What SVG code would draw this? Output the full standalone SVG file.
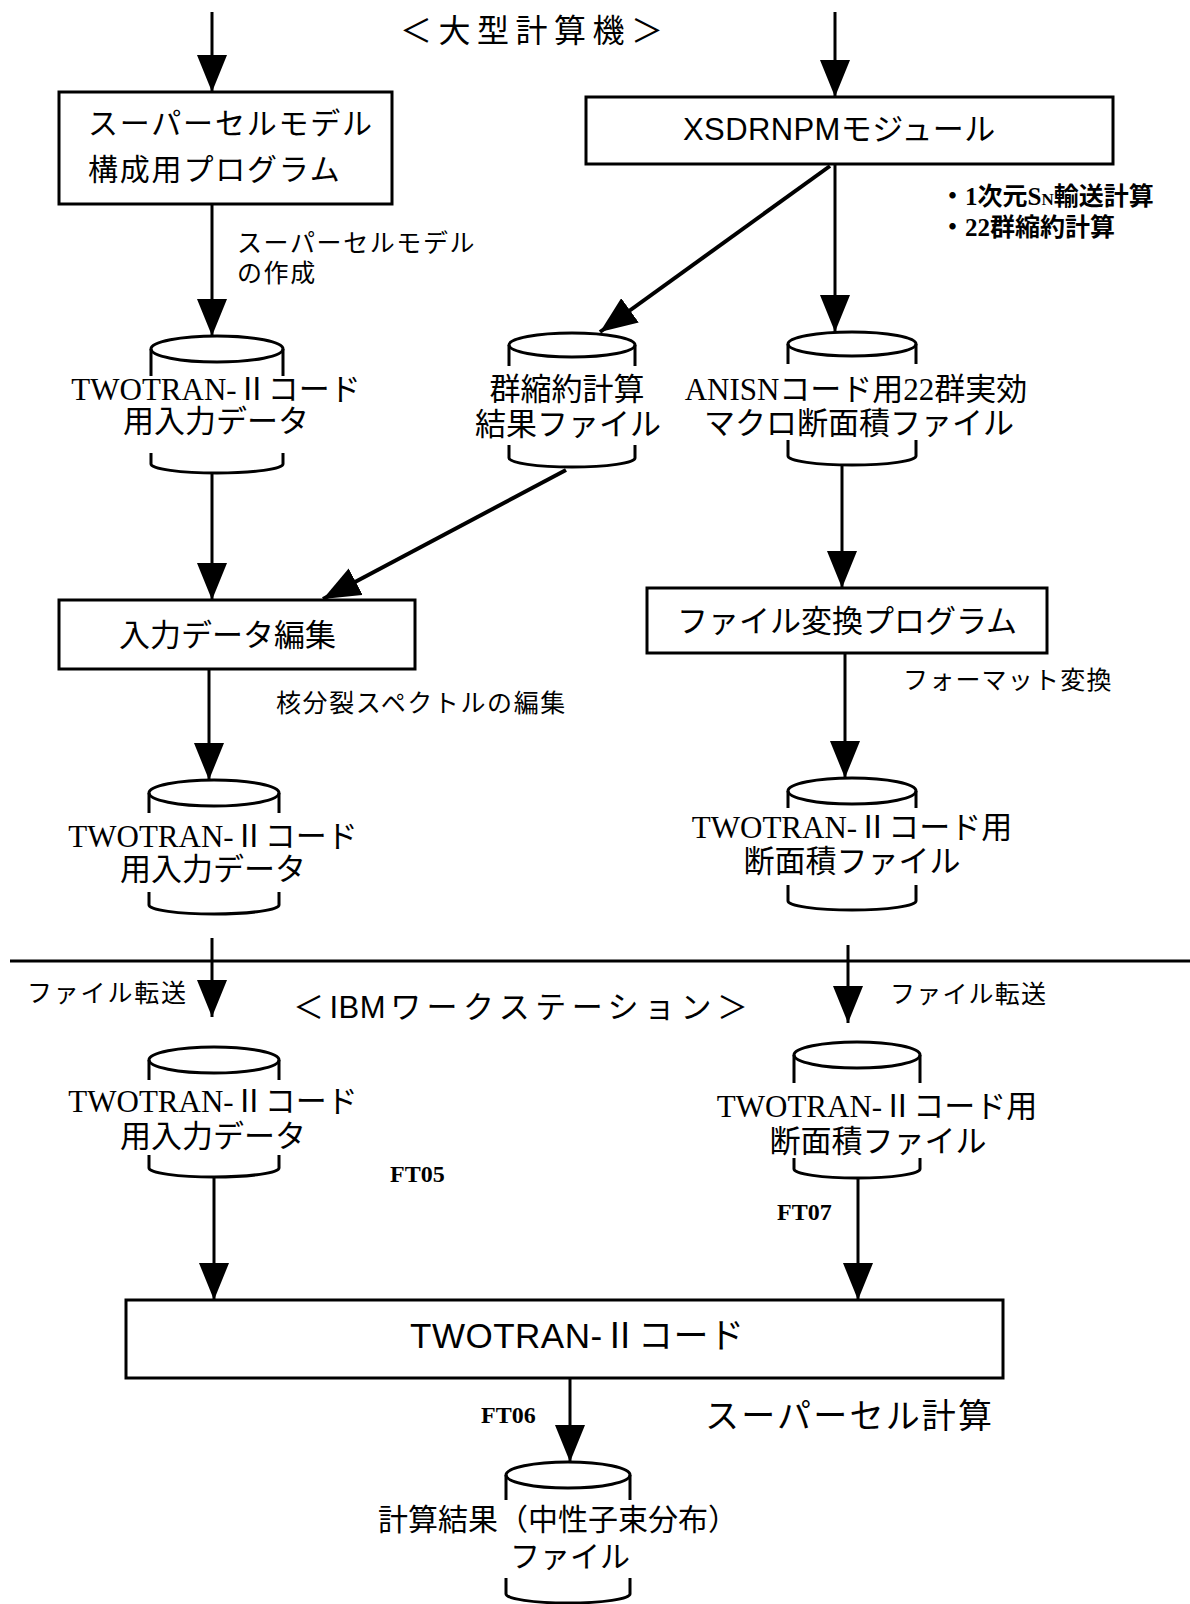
<svg xmlns="http://www.w3.org/2000/svg" width="1190" height="1604" viewBox="0 0 1190 1604">
<style>
.bx{fill:#fff;stroke:#000;stroke-width:3}
.cy{fill:none;stroke:#000;stroke-width:3}
.ln{fill:none;stroke:#000;stroke-width:3}
.lnd{fill:none;stroke:#000;stroke-width:4}
.sans{font-family:"Liberation Sans","Noto Sans CJK JP",sans-serif;fill:#000}
.ser{font-family:"Liberation Serif","Noto Sans CJK JP",serif;fill:#000}
.t31{font-size:31px}
.t30{font-size:30px}
.lb{font-size:25px}
.mid{text-anchor:middle}
</style>
<defs>
<marker id="ah" viewBox="0 0 37 30" refX="37" refY="15" markerWidth="37" markerHeight="30" markerUnits="userSpaceOnUse" orient="auto">
<path d="M0,0 L37,15 L0,30 Z" fill="#000"/>
</marker>
</defs>
<rect x="0" y="0" width="1190" height="1604" fill="#fff"/>

<text class="sans" x="400" y="42" font-size="32" letter-spacing="6.5">＜大型計算機＞</text>
<text class="sans t31" x="293" y="1018" letter-spacing="5.5">＜<tspan letter-spacing="0.5">IBM</tspan><tspan dx="4">ワークステーション＞</tspan></text>
<line class="ln" x1="10" y1="961" x2="1190" y2="961"/>

<g id="connectors">
<line class="ln" x1="212" y1="12" x2="212" y2="92" marker-end="url(#ah)"/>
<line class="ln" x1="835" y1="12" x2="835" y2="97" marker-end="url(#ah)"/>
<line class="ln" x1="212" y1="204" x2="212" y2="336" marker-end="url(#ah)"/>
<line class="lnd" x1="830" y1="166" x2="600" y2="332" marker-end="url(#ah)"/>
<line class="ln" x1="835" y1="164" x2="835" y2="332" marker-end="url(#ah)"/>
<line class="ln" x1="212" y1="473" x2="212" y2="600" marker-end="url(#ah)"/>
<line class="lnd" x1="566" y1="470" x2="323" y2="599" marker-end="url(#ah)"/>
<line class="ln" x1="842" y1="465" x2="842" y2="588" marker-end="url(#ah)"/>
<line class="ln" x1="209" y1="669" x2="209" y2="780" marker-end="url(#ah)"/>
<line class="ln" x1="845" y1="653" x2="845" y2="778" marker-end="url(#ah)"/>
<line class="ln" x1="212" y1="938" x2="212" y2="1017" marker-end="url(#ah)"/>
<line class="ln" x1="848" y1="945" x2="848" y2="1023" marker-end="url(#ah)"/>
<line class="ln" x1="214" y1="1177" x2="214" y2="1300" marker-end="url(#ah)"/>
<line class="ln" x1="858" y1="1178" x2="858" y2="1300" marker-end="url(#ah)"/>
<line class="ln" x1="570" y1="1378" x2="570" y2="1462" marker-end="url(#ah)"/>
<text class="ser lb" x="237" y="252" letter-spacing="1.6">スーパーセルモデル</text>
<text class="ser lb" x="237" y="282" letter-spacing="1.6">の作成</text>
<text class="ser lb" x="276" y="712" letter-spacing="1.6">核分裂スペクトルの編集</text>
<text class="ser lb" x="903" y="689" letter-spacing="1.2">フォーマット変換</text>
<text class="ser lb" x="27" y="1002" letter-spacing="1.8">ファイル転送</text>
<text class="ser lb" x="890" y="1003" letter-spacing="1.2">ファイル転送</text>
<text class="ser" x="390" y="1182" font-size="24" font-weight="bold">FT05</text>
<text class="ser" x="777" y="1220" font-size="24" font-weight="bold">FT07</text>
<text class="ser" x="481" y="1423" font-size="24" font-weight="bold">FT06</text>
</g>

<g id="n_supercell_prog">
<rect class="bx" x="59" y="92" width="333" height="112"/>
<text class="sans t30" x="88" y="134" letter-spacing="1.8">スーパーセルモデル</text>
<text class="sans t30" x="88" y="180" letter-spacing="1.8">構成用プログラム</text>
</g>

<g id="n_xsdrnpm">
<rect class="bx" x="586" y="97" width="527" height="67"/>
<text class="sans t31" x="683" y="140" letter-spacing="0.4">XSDRNPMモジュール</text>
</g>

<g id="n_xsdrnpm_note">
<text class="ser" x="940" y="205" font-size="25" font-weight="bold">・1次元S<tspan font-size="17">N</tspan>輸送計算</text>
<text class="ser" x="940" y="236" font-size="25" font-weight="bold">・22群縮約計算</text>
</g>

<g id="n_input1">
<ellipse class="cy" cx="217" cy="349" rx="66" ry="13"/>
<path class="cy" d="M151,349 V376 M283,349 V376 M151,453 V464 A66,9 0 0 0 283,464 V453"/>
<text class="ser t31 mid" x="216" y="400">TWOTRAN-Ⅱコード</text>
<text class="ser t31 mid" x="216" y="432">用入力データ</text>
</g>

<g id="n_group_result">
<ellipse class="cy" cx="572" cy="345" rx="63" ry="12"/>
<path class="cy" d="M509,345 V366 M635,345 V366 M509,445 V458 A63,9 0 0 0 635,458 V445"/>
<text class="ser t31 mid" x="567" y="400">群縮約計算</text>
<text class="ser t31 mid" x="568" y="435">結果ファイル</text>
</g>

<g id="n_anisn">
<ellipse class="cy" cx="852" cy="344" rx="64" ry="12"/>
<path class="cy" d="M788,344 V364 M916,344 V364 M788,440 V456 A64,9 0 0 0 916,456 V440"/>
<text class="ser t31 mid" x="856" y="400">ANISNコード用22群実効</text>
<text class="ser t31 mid" x="859" y="434">マクロ断面積ファイル</text>
</g>

<g id="n_edit">
<rect class="bx" x="59" y="600" width="356" height="69"/>
<text class="sans t31" x="119" y="646">入力データ編集</text>
</g>

<g id="n_convert">
<rect class="bx" x="647" y="588" width="400" height="65"/>
<text class="sans t31" x="677" y="632">ファイル変換プログラム</text>
</g>

<g id="n_input2">
<ellipse class="cy" cx="214" cy="793" rx="65" ry="13"/>
<path class="cy" d="M149,793 V813 M279,793 V813 M149,892 V905 A65,9 0 0 0 279,905 V892"/>
<text class="ser t31 mid" x="213" y="847">TWOTRAN-Ⅱコード</text>
<text class="ser t31 mid" x="213" y="880">用入力データ</text>
</g>

<g id="n_xs1">
<ellipse class="cy" cx="852" cy="791" rx="64" ry="13"/>
<path class="cy" d="M788,791 V808 M916,791 V808 M788,885 V901 A64,9 0 0 0 916,901 V885"/>
<text class="ser t31 mid" x="852" y="838">TWOTRAN-Ⅱコード用</text>
<text class="ser t31 mid" x="852" y="872">断面積ファイル</text>
</g>

<g id="n_input3">
<ellipse class="cy" cx="214" cy="1060" rx="65" ry="13"/>
<path class="cy" d="M149,1060 V1080 M279,1060 V1080 M149,1155 V1168 A65,9 0 0 0 279,1168 V1155"/>
<text class="ser t31 mid" x="213" y="1112">TWOTRAN-Ⅱコード</text>
<text class="ser t31 mid" x="213" y="1147">用入力データ</text>
</g>

<g id="n_xs2">
<ellipse class="cy" cx="857" cy="1055" rx="63" ry="13"/>
<path class="cy" d="M794,1055 V1083 M920,1055 V1083 M794,1158 V1169 A63,9 0 0 0 920,1169 V1158"/>
<text class="ser t31 mid" x="877" y="1117">TWOTRAN-Ⅱコード用</text>
<text class="ser t31 mid" x="878" y="1152">断面積ファイル</text>
</g>

<g id="n_twotran">
<rect class="bx" x="126" y="1300" width="877" height="78"/>
<text class="sans" x="410" y="1348" font-size="35" letter-spacing="0.5">TWOTRAN-Ⅱコード</text>
</g>

<g id="n_supercell_calc">
<text class="sans" x="705" y="1428" font-size="34" letter-spacing="2.2">スーパーセル計算</text>
</g>

<g id="n_result">
<ellipse class="cy" cx="568" cy="1475" rx="62" ry="13"/>
<path class="cy" d="M506,1475 V1500 M630,1475 V1500 M506,1578 V1594 A62,9 0 0 0 630,1594 V1578"/>
<text class="ser t30 mid" x="558" y="1530">計算結果（中性子束分布）</text>
<text class="ser t30 mid" x="570" y="1567">ファイル</text>
</g>
</svg>
